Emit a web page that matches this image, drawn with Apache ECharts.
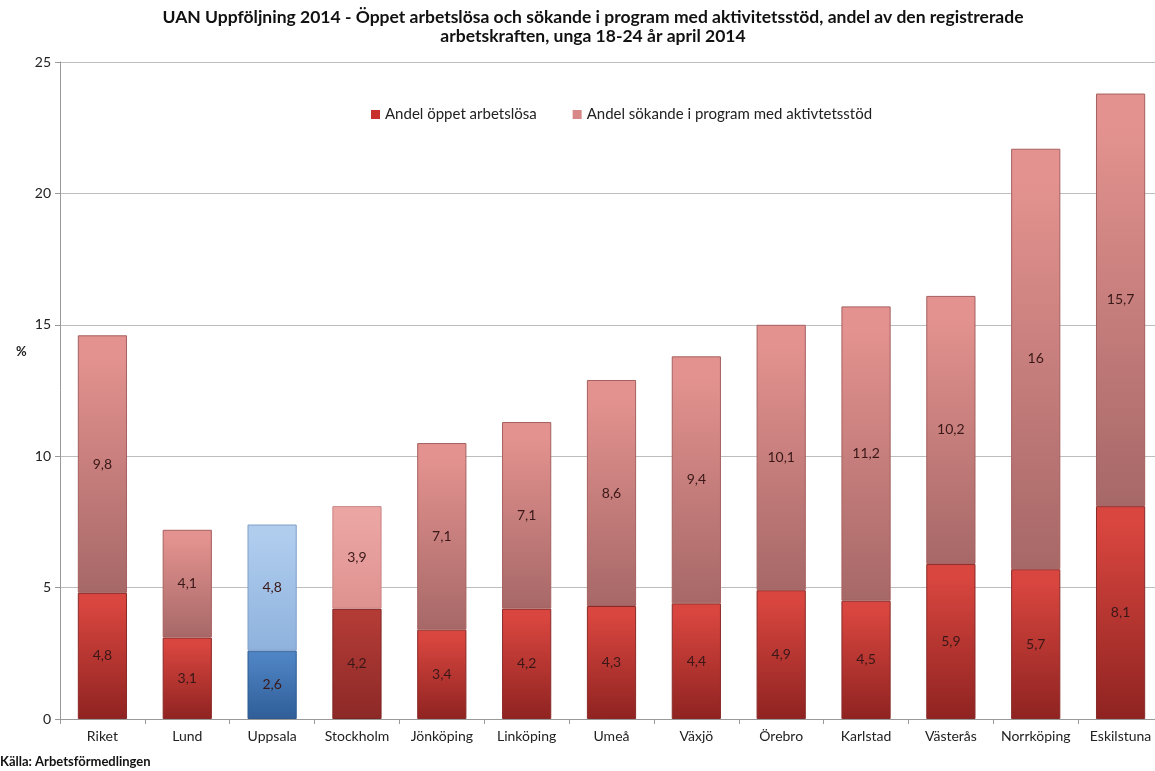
<!DOCTYPE html>
<html><head><meta charset="utf-8">
<script src="https://cdn.jsdelivr.net/npm/echarts@6/dist/echarts.min.js"></script>
<style>html,body{margin:0;padding:0;background:#fff}#c{width:1155px;height:771px}</style>
</head><body><div id="c"></div>
<script>
const categories = ['Riket','Lund','Uppsala','Stockholm','Jönköping','Linköping','Umeå','Växjö','Örebro','Karlstad','Västerås','Norrköping','Eskilstuna'];
const openUnemployed = [4.8,3.1,2.6,4.2,3.4,4.2,4.3,4.4,4.9,4.5,5.9,5.7,8.1];
const inProgram = [9.8,4.1,4.8,3.9,7.1,7.1,8.6,9.4,10.1,11.2,10.2,16,15.7];
const yTicks = [0,5,10,15,20,25];
const seriesNames = ['Andel öppet arbetslösa','Andel sökande i program med aktivtetsstöd'];

function grad(top, bottom){
  return {type:'linear',x:0,y:0,x2:0,y2:1,colorStops:[{offset:0,color:top},{offset:0.08,color:top},{offset:1,color:bottom}]};
}
const redStyle = {color:grad('#d9463f','#8f2321'), borderColor:'#8a2a28', borderWidth:1};
const pinkStyle = {color:grad('#e3928f','#a66867'), borderColor:'#a5605f', borderWidth:1};
const special = {
  'Uppsala': [{color:grad('#4f84c4','#2f5e98'), borderColor:'#2d5a90', borderWidth:1},
              {color:grad('#b0cdee','#8eb2dd'), borderColor:'#7f9fc6', borderWidth:1}],
  'Stockholm': [{color:grad('#b33b36','#8c2927'), borderColor:'#7e2624', borderWidth:1},
                {color:grad('#eba6a4','#df9290'), borderColor:'#c98684', borderWidth:1}]
};
function build(vals, idx, base){
  return vals.map((v,i)=>{
    const c = categories[i];
    return {value:v, itemStyle: special[c] ? special[c][idx] : base};
  });
}
const fmt = p => String(p.value).replace('.', ',');
const lab = {show:true, position:'inside', formatter:fmt, color:'#3a1818', fontSize:14, fontFamily:'Lato'};

const chart = echarts.init(document.getElementById('c'));
chart.setOption({
  animation:false,
  textStyle:{fontFamily:'Lato'},
  title:{text:'UAN Uppföljning 2014 - Öppet arbetslösa och sökande i program med aktivitetsstöd, andel av den registrerade\narbetskraften, unga 18-24 år april 2014',
    left:588, top:3, textAlign:'center',
    textStyle:{fontFamily:'Lato', fontWeight:'bold', fontSize:17.5, color:'#111', lineHeight:19}},
  legend:{top:102, left:366, itemWidth:9, itemHeight:9, itemGap:36, icon:'rect',
    textStyle:{fontFamily:'Lato', fontSize:15, color:'#222'},
    data:[{name:seriesNames[0], itemStyle:{color:'#c8302d'}},{name:seriesNames[1], itemStyle:{color:'#d88886'}}]},
  grid:{left:60, width:1103, top:62, bottom:52, containLabel:false, outerBoundsMode:'none'},
  xAxis:{type:'category', data:categories,
    axisLine:{lineStyle:{color:'#999'}}, axisTick:{show:true, alignWithLabel:false, length:5, lineStyle:{color:'#999'}},
    axisLabel:{color:'#222', fontSize:14, fontFamily:'Lato', margin:10, interval:0}},
  yAxis:{type:'value', min:0, max:25, interval:5,
    axisLine:{show:true, lineStyle:{color:'#999'}}, axisTick:{show:true, length:5, lineStyle:{color:'#999'}},
    axisLabel:{color:'#222', fontSize:14, fontFamily:'Lato', margin:9},
    splitLine:{lineStyle:{color:'#bdbdbd'}}},
  graphic:[
    {type:'text', left:16, top:345, style:{text:'%', font:'bold 13px Lato', fill:'#222'}},
    {type:'text', left:0, top:755, style:{text:'Källa: Arbetsförmedlingen', font:'bold 13px Lato', fill:'#111'}}
  ],
  series:[
    {name:seriesNames[0], type:'bar', stack:'a', barWidth:'58%', data:build(openUnemployed,0,redStyle), label:lab},
    {name:seriesNames[1], type:'bar', stack:'a', barWidth:'58%', data:build(inProgram,1,pinkStyle), label:lab}
  ]
});
</script></body></html>
